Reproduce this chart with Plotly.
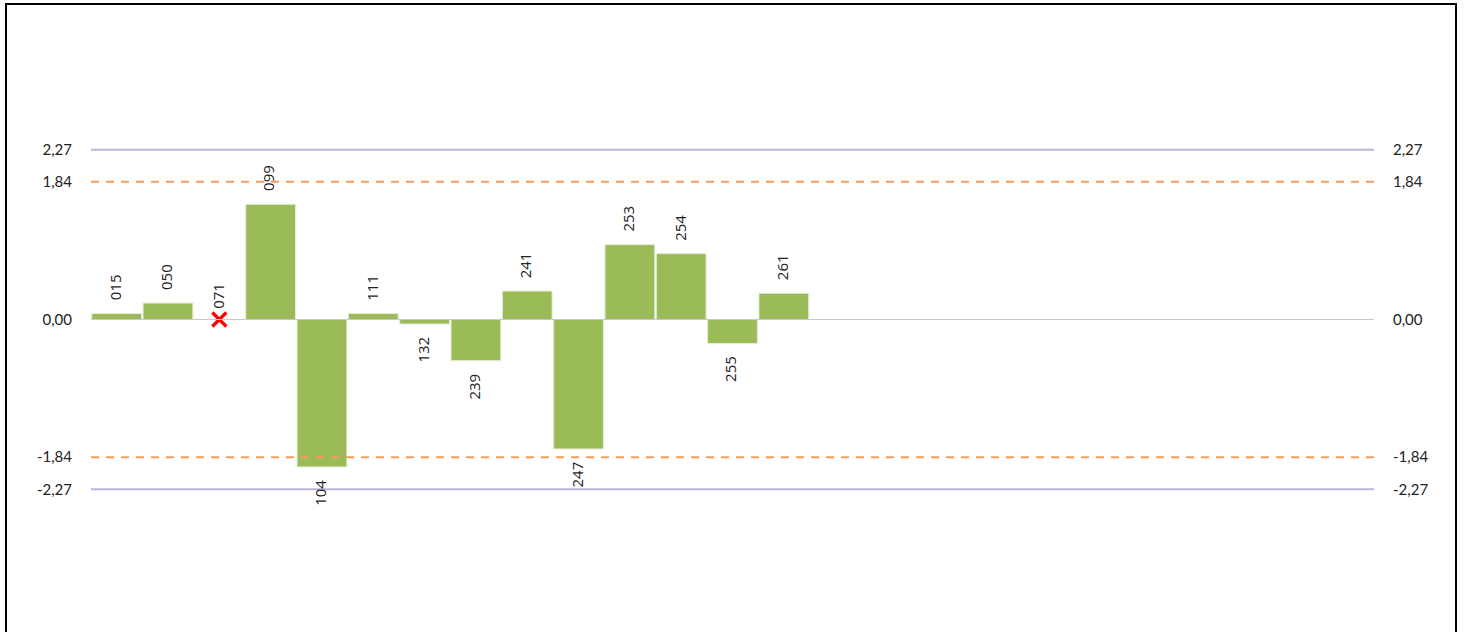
import plotly.graph_objects as go

codes = ["015", "050", "071", "099", "104", "111", "132", "239", "241", "247", "253", "254", "255", "261"]
values = [0.08, 0.22, None, 1.54, -1.97, 0.08, -0.06, -0.55, 0.38, -1.73, 1.00, 0.88, -0.32, 0.35]
n_slots = 25
limit_outer = 2.27
limit_inner = 1.84
tick_vals = [2.27, 1.84, 0.0, -1.84, -2.27]
tick_text = ["2,27", "1,84", "0,00", "-1,84", "-2,27"]

W, H = 1466, 632
ML, MR, MT, MB = 91, 92, 95, 88
plot_w = W - ML - MR
plot_h = H - MT - MB

xs = list(range(len(codes)))
bar_x = [x for x, v in zip(xs, values) if v is not None]
bar_y = [v for v in values if v is not None]
miss_x = [x for x, v in zip(xs, values) if v is None]

fig = go.Figure()
fig.add_trace(go.Bar(
    x=bar_x, y=bar_y, marker=dict(color="#9BBB59", line=dict(color="#E4EDD3", width=1)),
    width=0.97, hoverinfo="skip", showlegend=False))
fig.add_trace(go.Scatter(
    x=miss_x, y=[0] * len(miss_x), mode="markers",
    marker=dict(symbol="x-thin", size=14, line=dict(color="#FF0000", width=3.2), color="#FF0000"),
    showlegend=False, hoverinfo="skip"))
fig.add_trace(go.Scatter(x=[0], y=[0], yaxis="y2", mode="markers", marker=dict(opacity=0),
                         showlegend=False, hoverinfo="skip"))

for x, c, v in zip(xs, codes, values):
    val = 0 if v is None else v
    up = v is None or v >= 0
    fig.add_annotation(x=x, y=val, text=c, textangle=-90, showarrow=False,
                       yanchor="bottom" if up else "top", xshift=-2,
                       yshift=(9 if v is None else 11) if up else -11,
                       font=dict(family="Open Sans", size=15, color="#222222"))

for yv, col, dash in [(limit_outer, "#C0B3D8", "solid"), (-limit_outer, "#C0B3D8", "solid"),
                      (limit_inner, "#F59D56", "8px,7px"), (-limit_inner, "#F59D56", "8px,7px")]:
    fig.add_shape(type="line", xref="paper", yref="y", x0=0, x1=1, y0=yv, y1=yv,
                  line=dict(color=col, width=2, dash=dash))
fig.add_shape(type="line", xref="paper", yref="y", x0=0, x1=1, y0=0, y1=0,
              line=dict(color="#C8C8C8", width=1))

# outer frame
fig.add_shape(type="rect", xref="paper", yref="paper",
              x0=(6 - ML) / plot_w, x1=(1456 - ML) / plot_w,
              y0=-0.4, y1=(H - MB - 4) / plot_h,
              line=dict(color="#000000", width=2), layer="below")

yaxis_common = dict(range=[-3, 3], tickvals=tick_vals, ticktext=tick_text, showgrid=False,
                    zeroline=False, showline=False, ticks="", ticklabelstandoff=18,
                    tickfont=dict(family="Lato", size=15, color="#222222"), fixedrange=True)
fig.update_layout(
    width=W, height=H, margin=dict(l=ML, r=MR, t=MT, b=MB),
    paper_bgcolor="white", plot_bgcolor="white",
    xaxis=dict(range=[-0.5, n_slots - 0.5], showticklabels=False, showgrid=False,
               zeroline=False, showline=False, ticks="", fixedrange=True),
    yaxis=yaxis_common,
    yaxis2=dict(yaxis_common, overlaying="y", side="right"),
    bargap=0.03,
)
fig.write_html("out.html", config={"displayModeBar": False},
               post_script="document.body.style.margin='0';document.body.style.overflow='hidden';")
